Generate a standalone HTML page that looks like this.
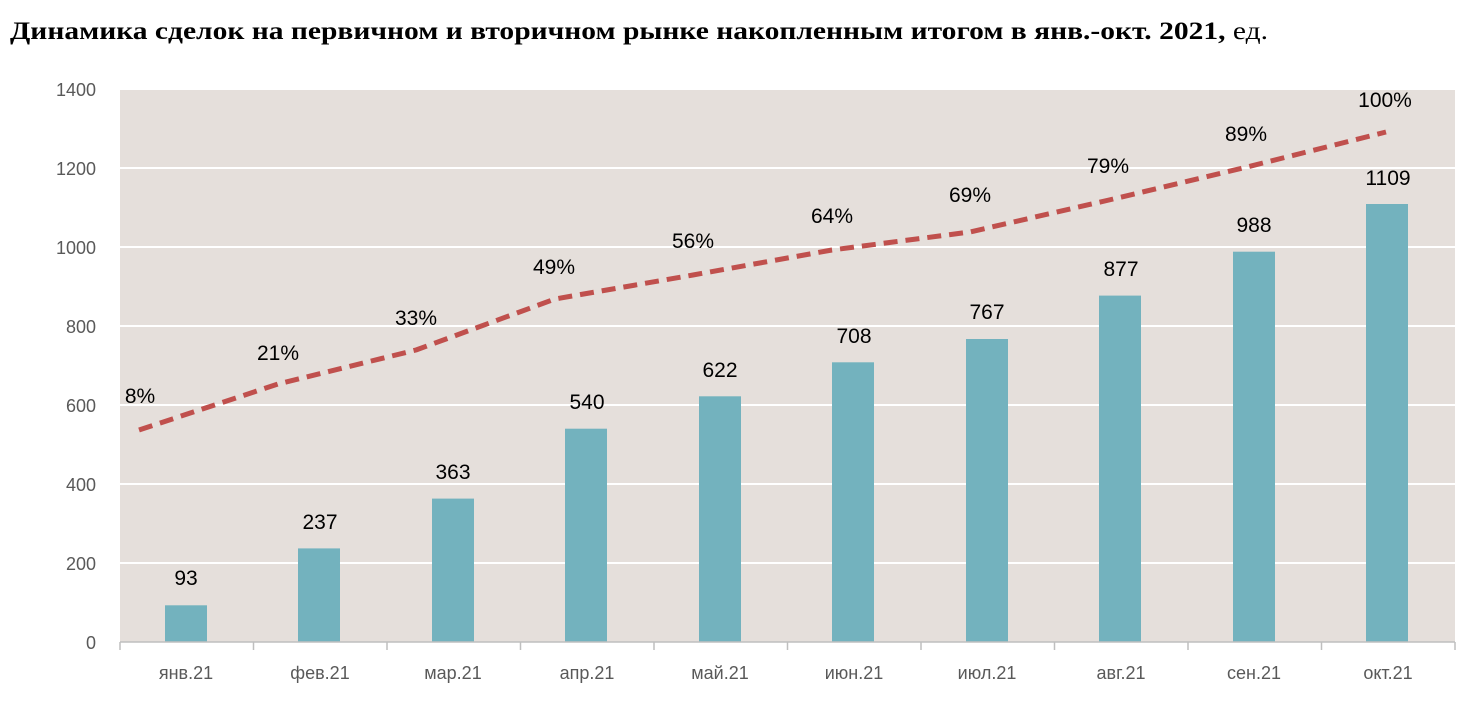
<!DOCTYPE html>
<html><head><meta charset="utf-8"><style>
body{margin:0;background:#fff;width:1466px;height:707px;overflow:hidden}
</style></head><body>
<svg width="1466" height="707" xmlns="http://www.w3.org/2000/svg" font-family="'Liberation Sans', sans-serif">
<text x="10" y="39" font-family="'Liberation Serif', serif" font-size="25" font-weight="bold" fill="#000" textLength="1258" lengthAdjust="spacingAndGlyphs">Динамика сделок на первичном и вторичном рынке накопленным итогом в янв.-окт. 2021,<tspan font-weight="normal"> ед.</tspan></text>
<rect x="120" y="89" width="1335" height="553" fill="#e5dfdb"/>
<g stroke="#fff" stroke-width="2">
<line x1="120" y1="89" x2="1455" y2="89"/><line x1="120" y1="168" x2="1455" y2="168"/><line x1="120" y1="247" x2="1455" y2="247"/><line x1="120" y1="326" x2="1455" y2="326"/><line x1="120" y1="405" x2="1455" y2="405"/><line x1="120" y1="484" x2="1455" y2="484"/><line x1="120" y1="563" x2="1455" y2="563"/>
</g>
<g fill="#595959" font-size="18" text-anchor="end">
<text x="96" y="96">1400</text><text x="96" y="175">1200</text><text x="96" y="254">1000</text><text x="96" y="333">800</text><text x="96" y="412">600</text><text x="96" y="491">400</text><text x="96" y="570">200</text><text x="96" y="649">0</text>
</g>
<g fill="#73b2be">
<rect x="165" y="605.3" width="42" height="36.7"/>
<rect x="298" y="548.4" width="42" height="93.6"/>
<rect x="432" y="498.6" width="42" height="143.4"/>
<rect x="565" y="428.7" width="42" height="213.3"/>
<rect x="699" y="396.3" width="42" height="245.7"/>
<rect x="832" y="362.3" width="42" height="279.7"/>
<rect x="966" y="339" width="42" height="303"/>
<rect x="1099" y="295.6" width="42" height="346.4"/>
<rect x="1233" y="251.7" width="42" height="390.3"/>
<rect x="1366" y="204" width="42" height="438"/>
</g>
<line x1="120" y1="642" x2="1455" y2="642" stroke="#bfbfbf" stroke-width="1.5"/>
<g stroke="#bfbfbf" stroke-width="1.5">
<line x1="120" y1="642" x2="120" y2="650"/><line x1="253.5" y1="642" x2="253.5" y2="650"/><line x1="387" y1="642" x2="387" y2="650"/><line x1="520.5" y1="642" x2="520.5" y2="650"/><line x1="654" y1="642" x2="654" y2="650"/><line x1="787.5" y1="642" x2="787.5" y2="650"/><line x1="921" y1="642" x2="921" y2="650"/><line x1="1054.5" y1="642" x2="1054.5" y2="650"/><line x1="1188" y1="642" x2="1188" y2="650"/><line x1="1321.5" y1="642" x2="1321.5" y2="650"/><line x1="1455" y1="642" x2="1455" y2="650"/>
</g>
<g fill="#595959" font-size="18" text-anchor="middle">
<text x="186" y="679">янв.21</text><text x="320" y="679">фев.21</text><text x="453" y="679">мар.21</text><text x="587" y="679">апр.21</text><text x="720" y="679">май.21</text><text x="854" y="679">июн.21</text><text x="987" y="679">июл.21</text><text x="1121" y="679">авг.21</text><text x="1254" y="679">сен.21</text><text x="1388" y="679">окт.21</text>
</g>
<g fill="#000" font-size="21" text-anchor="middle">
<text x="186" y="585">93</text><text x="320" y="529">237</text><text x="453" y="479">363</text><text x="587" y="409">540</text><text x="720" y="377">622</text><text x="854" y="343">708</text><text x="987" y="319">767</text><text x="1121" y="276">877</text><text x="1254" y="232">988</text><text x="1388" y="185">1109</text>
</g>
<polyline fill="none" stroke="#c0504d" stroke-width="5" stroke-dasharray="14,8" stroke-linejoin="round"
points="139,430 278,384 416,350 555,299 693,275 832,250 970,232 1109,200 1247,167 1386,132"/>
<g fill="#000" font-size="21" text-anchor="middle">
<text x="140" y="403">8%</text><text x="278" y="360">21%</text><text x="416" y="325">33%</text><text x="554" y="274">49%</text><text x="693" y="248">56%</text><text x="832" y="223">64%</text><text x="970" y="202">69%</text><text x="1108" y="173">79%</text><text x="1246" y="141">89%</text><text x="1385" y="107">100%</text>
</g>
</svg>
</body></html>
